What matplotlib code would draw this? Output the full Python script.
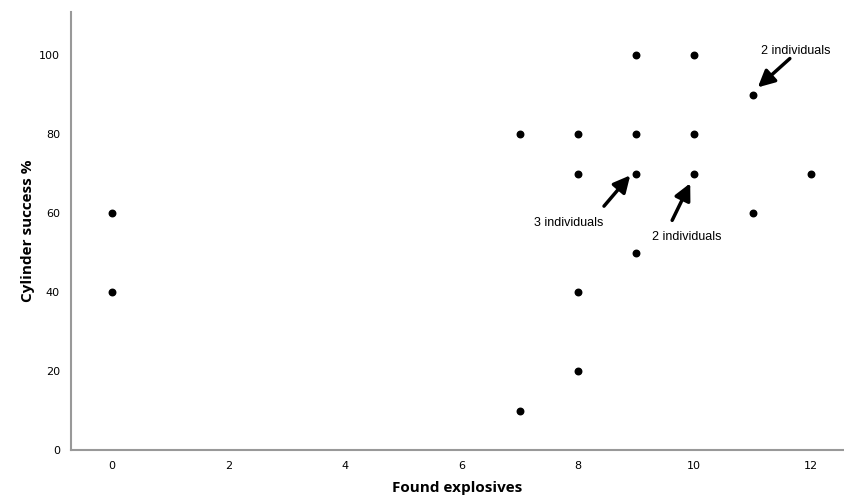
import matplotlib
matplotlib.use("Agg")
import matplotlib.pyplot as plt

# Data
found = [0, 0, 7, 7, 8, 8, 8, 8, 9, 9, 9, 9, 10, 10, 10, 11, 11, 12]
success = [60, 40, 80, 10, 80, 70, 40, 20, 100, 80, 70, 50, 100, 80, 70, 90, 60, 70]

# annotations: text, arrow head, arrow tail, text position
notes = ["3 individuals", "2 individuals", "2 individuals"]
note_pts = [(8.9, 69.6), (9.93, 67.6), (11.09, 91.9)]
note_tails = [(8.45, 61.8), (9.62, 58.2), (11.64, 99.2)]
note_text = [(7.85, 57.5), (9.87, 53.9), (11.74, 101.0)]

fig = plt.figure(figsize=(8.44, 5), dpi=100)
ax = fig.add_axes([71 / 844, 0.1, 1 - 71 / 844, 0.876])

ax.scatter(found, success, s=22, color="black", zorder=3)

for txt, pt, tail, tp in zip(notes, note_pts, note_tails, note_text):
    ax.annotate("", xy=pt, xytext=tail,
                arrowprops=dict(arrowstyle="-|>,head_width=0.5,head_length=1.0",
                                color="black", lw=2.5, shrinkA=0, shrinkB=0))
    ax.text(tp[0], tp[1], txt, ha="center", va="center",
            fontsize=9, family="Liberation Sans")

ax.set_xlim(-0.7, 12.57)
ax.set_ylim(0, 111)
ax.set_xticks([0, 2, 4, 6, 8, 10, 12])
ax.set_yticks([0, 20, 40, 60, 80, 100])
ax.tick_params(length=0, labelsize=8, pad=8)

for s in ["top", "right"]:
    ax.spines[s].set_visible(False)
for s in ["left", "bottom"]:
    ax.spines[s].set_color("#999999")
    ax.spines[s].set_linewidth(1.5)

ax.set_xlabel("Found explosives", fontsize=11, fontweight="bold",
              family="Open Sans", labelpad=7)
ax.set_ylabel("Cylinder success %", fontsize=11, fontweight="bold",
              family="Open Sans", labelpad=3)

fig.savefig("out.png", dpi=100)
